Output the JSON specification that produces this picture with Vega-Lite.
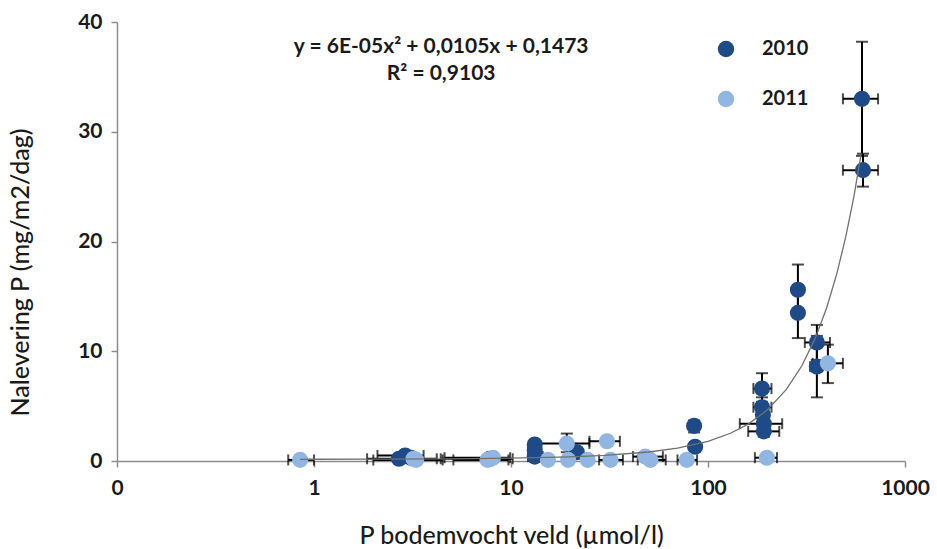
{
  "$schema": "https://vega.github.io/schema/vega-lite/v6.json",
  "width": 788,
  "height": 439,
  "autosize": {"type": "none"},
  "padding": {"left": 117, "top": 22, "right": 32, "bottom": 88},
  "background": "white",
  "config": {
    "view": {"stroke": null},
    "font": "Lato",
    "axis": {"grid": false, "domainColor": "#8c8c8c", "tickColor": "#8c8c8c", "domainWidth": 1.5, "tickWidth": 1.5, "labelFont": "Lato", "titleFont": "Lato", "labelColor": "#1a1a1a", "titleColor": "#1a1a1a", "labelFontWeight": "bold", "titleFontWeight": 500}
  },
  "datasets": {
    "pts": [
      {"year": "2010", "x": 2.7, "y": 0.2, "xlo": 1.86, "xhi": 4.2, "ylo": null, "yhi": null},
      {"year": "2010", "x": 2.9, "y": 0.5, "xlo": 2.1, "xhi": 3.6, "ylo": null, "yhi": null},
      {"year": "2010", "x": 3.1, "y": 0.3, "xlo": null, "xhi": null, "ylo": null, "yhi": null},
      {"year": "2010", "x": 7.8, "y": 0.2, "xlo": 4.4, "xhi": 10.2, "ylo": null, "yhi": null},
      {"year": "2010", "x": 13.2, "y": 1.5, "xlo": null, "xhi": null, "ylo": 1.2, "yhi": 1.8},
      {"year": "2010", "x": 13.2, "y": 1.0, "xlo": null, "xhi": null, "ylo": null, "yhi": null},
      {"year": "2010", "x": 13.2, "y": 0.4, "xlo": 12.2, "xhi": 14.5, "ylo": null, "yhi": null},
      {"year": "2010", "x": 21.6, "y": 0.8, "xlo": null, "xhi": null, "ylo": null, "yhi": null},
      {"year": "2010", "x": 85, "y": 3.2, "xlo": null, "xhi": null, "ylo": 2.6, "yhi": 3.7},
      {"year": "2010", "x": 86, "y": 1.3, "xlo": null, "xhi": null, "ylo": null, "yhi": null},
      {"year": "2010", "x": 188, "y": 6.6, "xlo": 170, "xhi": 210, "ylo": 5.4, "yhi": 8.0},
      {"year": "2010", "x": 188, "y": 4.9, "xlo": 170, "xhi": 210, "ylo": 4.0, "yhi": 5.8},
      {"year": "2010", "x": 190, "y": 4.2, "xlo": null, "xhi": null, "ylo": null, "yhi": null},
      {"year": "2010", "x": 192, "y": 3.4, "xlo": 145, "xhi": 238, "ylo": null, "yhi": null},
      {"year": "2010", "x": 192, "y": 2.7, "xlo": 160, "xhi": 230, "ylo": 2.2, "yhi": 3.2},
      {"year": "2010", "x": 286, "y": 15.6, "xlo": null, "xhi": null, "ylo": 13.3, "yhi": 17.9},
      {"year": "2010", "x": 286, "y": 13.5, "xlo": null, "xhi": null, "ylo": 11.2, "yhi": 15.8},
      {"year": "2010", "x": 357, "y": 10.8, "xlo": 310, "xhi": 416, "ylo": 9.2, "yhi": 12.4},
      {"year": "2010", "x": 357, "y": 8.6, "xlo": 330, "xhi": 380, "ylo": 5.8, "yhi": 11.4},
      {"year": "2010", "x": 605, "y": 33.0, "xlo": 484, "xhi": 730, "ylo": 27.8, "yhi": 38.2},
      {"year": "2010", "x": 612, "y": 26.5, "xlo": 484, "xhi": 730, "ylo": 25.0, "yhi": 28.0},
      {"year": "2011", "x": 0.85, "y": 0.1, "xlo": 0.74, "xhi": 1.0, "ylo": null, "yhi": null},
      {"year": "2011", "x": 3.3, "y": 0.1, "xlo": 2.0, "xhi": 4.5, "ylo": null, "yhi": null},
      {"year": "2011", "x": 3.2, "y": 0.2, "xlo": null, "xhi": null, "ylo": null, "yhi": null},
      {"year": "2011", "x": 7.6, "y": 0.1, "xlo": 5.1, "xhi": 9.7, "ylo": null, "yhi": null},
      {"year": "2011", "x": 8.1, "y": 0.3, "xlo": 4.6, "xhi": 9.9, "ylo": null, "yhi": null},
      {"year": "2011", "x": 15.4, "y": 0.1, "xlo": null, "xhi": null, "ylo": null, "yhi": null},
      {"year": "2011", "x": 19.2, "y": 1.6, "xlo": 13.2, "xhi": 25, "ylo": 0.8, "yhi": 2.5},
      {"year": "2011", "x": 19.5, "y": 0.1, "xlo": null, "xhi": null, "ylo": null, "yhi": null},
      {"year": "2011", "x": 24.5, "y": 0.1, "xlo": null, "xhi": null, "ylo": null, "yhi": null},
      {"year": "2011", "x": 30.7, "y": 1.8, "xlo": 25, "xhi": 35.7, "ylo": null, "yhi": null},
      {"year": "2011", "x": 32, "y": 0.1, "xlo": 28, "xhi": 37, "ylo": null, "yhi": null},
      {"year": "2011", "x": 48, "y": 0.4, "xlo": 41.6, "xhi": 59, "ylo": null, "yhi": null},
      {"year": "2011", "x": 51, "y": 0.1, "xlo": 44, "xhi": 61, "ylo": null, "yhi": null},
      {"year": "2011", "x": 78, "y": 0.1, "xlo": 70, "xhi": 88, "ylo": null, "yhi": null},
      {"year": "2011", "x": 199, "y": 0.3, "xlo": 173, "xhi": 224, "ylo": null, "yhi": null},
      {"year": "2011", "x": 406, "y": 8.9, "xlo": 340, "xhi": 484, "ylo": 7.1, "yhi": 10.6}
    ],
    "trend": [
      {"x": 0.85, "y": 0.156}, {"x": 1, "y": 0.158}, {"x": 2, "y": 0.168}, {"x": 5, "y": 0.201},
      {"x": 10, "y": 0.258}, {"x": 20, "y": 0.381}, {"x": 30, "y": 0.516}, {"x": 50, "y": 0.822},
      {"x": 70, "y": 1.176}, {"x": 100, "y": 1.797}, {"x": 130, "y": 2.526}, {"x": 160, "y": 3.363},
      {"x": 200, "y": 4.647}, {"x": 250, "y": 6.522}, {"x": 300, "y": 8.697}, {"x": 350, "y": 11.172},
      {"x": 400, "y": 13.947}, {"x": 450, "y": 17.022}, {"x": 500, "y": 20.397}, {"x": 550, "y": 24.072},
      {"x": 600, "y": 28.047}
    ],
    "ann": [
      {"x": 4.42, "y": 37.7, "text": "y = 6E-05x² + 0,0105x + 0,1473"},
      {"x": 4.42, "y": 35.3, "text": "R² = 0,9103"}
    ]
  },
  "layer": [
    {
      "data": {"name": "pts"},
      "transform": [{"filter": "isValid(datum.xlo)"}],
      "mark": {"type": "rule", "color": "black", "strokeWidth": 2},
      "encoding": {
        "x": {"field": "xlo", "type": "quantitative", "scale": {"type": "log", "domain": [0.1, 1000], "nice": false}},
        "x2": {"field": "xhi"},
        "y": {"field": "y", "type": "quantitative", "scale": {"domain": [0, 40], "nice": false}}
      }
    },
    {
      "data": {"name": "pts"},
      "transform": [{"filter": "isValid(datum.xlo)"}, {"fold": ["xlo", "xhi"], "as": ["k", "xe"]}],
      "mark": {"type": "tick", "orient": "vertical", "color": "black", "thickness": 2, "size": 11},
      "encoding": {
        "x": {"field": "xe", "type": "quantitative"},
        "y": {"field": "y", "type": "quantitative"}
      }
    },
    {
      "data": {"name": "pts"},
      "transform": [{"filter": "isValid(datum.ylo)"}],
      "mark": {"type": "rule", "color": "black", "strokeWidth": 2},
      "encoding": {
        "x": {"field": "x", "type": "quantitative"},
        "y": {"field": "ylo", "type": "quantitative"},
        "y2": {"field": "yhi"}
      }
    },
    {
      "data": {"name": "pts"},
      "transform": [{"filter": "isValid(datum.ylo)"}, {"fold": ["ylo", "yhi"], "as": ["k", "ye"]}],
      "mark": {"type": "tick", "orient": "horizontal", "color": "black", "thickness": 2, "size": 12},
      "encoding": {
        "x": {"field": "x", "type": "quantitative"},
        "y": {"field": "ye", "type": "quantitative"}
      }
    },
    {
      "data": {"name": "pts"},
      "mark": {"type": "point", "shape": "circle", "filled": true, "opacity": 1, "size": 260},
      "encoding": {
        "x": {"field": "x", "type": "quantitative", "title": "P bodemvocht veld (µmol/l)",
          "axis": {"values": [0.1, 1, 10, 100, 1000], "labelExpr": "datum.value < 0.5 ? '0' : datum.label", "format": "d", "labelFlush": false, "tickSize": 6, "labelPadding": 10, "labelFontSize": 21, "titleFontSize": 25, "titleY": 74, "titleBaseline": "middle"}},
        "y": {"field": "y", "type": "quantitative", "title": "Nalevering P (mg/m2/dag)",
          "axis": {"values": [0, 10, 20, 30, 40], "tickSize": 6, "labelPadding": 9, "labelFontSize": 21, "titleFontSize": 25, "titleX": -97, "titleY": 250, "titleBaseline": "middle", "titleAngle": -90}},
        "color": {"field": "year", "type": "nominal", "title": null,
          "scale": {"domain": ["2010", "2011"], "range": ["#1E4B87", "#92B6E2"]},
          "legend": {"orient": "none", "legendX": 599, "legendY": 17, "symbolType": "circle", "symbolSize": 270, "symbolOpacity": 1, "labelFontSize": 20, "labelFont": "Lato", "labelColor": "#1a1a1a", "labelFontWeight": "bold", "labelOffset": 26, "rowPadding": 30, "padding": 0}}
      }
    },
    {
      "data": {"name": "trend"},
      "mark": {"type": "line", "color": "#707070", "strokeWidth": 1.3},
      "encoding": {
        "x": {"field": "x", "type": "quantitative"},
        "y": {"field": "y", "type": "quantitative"}
      }
    },
    {
      "data": {"name": "ann"},
      "mark": {"type": "text", "fontSize": 21, "font": "Lato", "fontWeight": "bold", "color": "#1a1a1a", "align": "center", "baseline": "middle"},
      "encoding": {
        "x": {"field": "x", "type": "quantitative"},
        "y": {"field": "y", "type": "quantitative"},
        "text": {"field": "text"}
      }
    }
  ]
}
